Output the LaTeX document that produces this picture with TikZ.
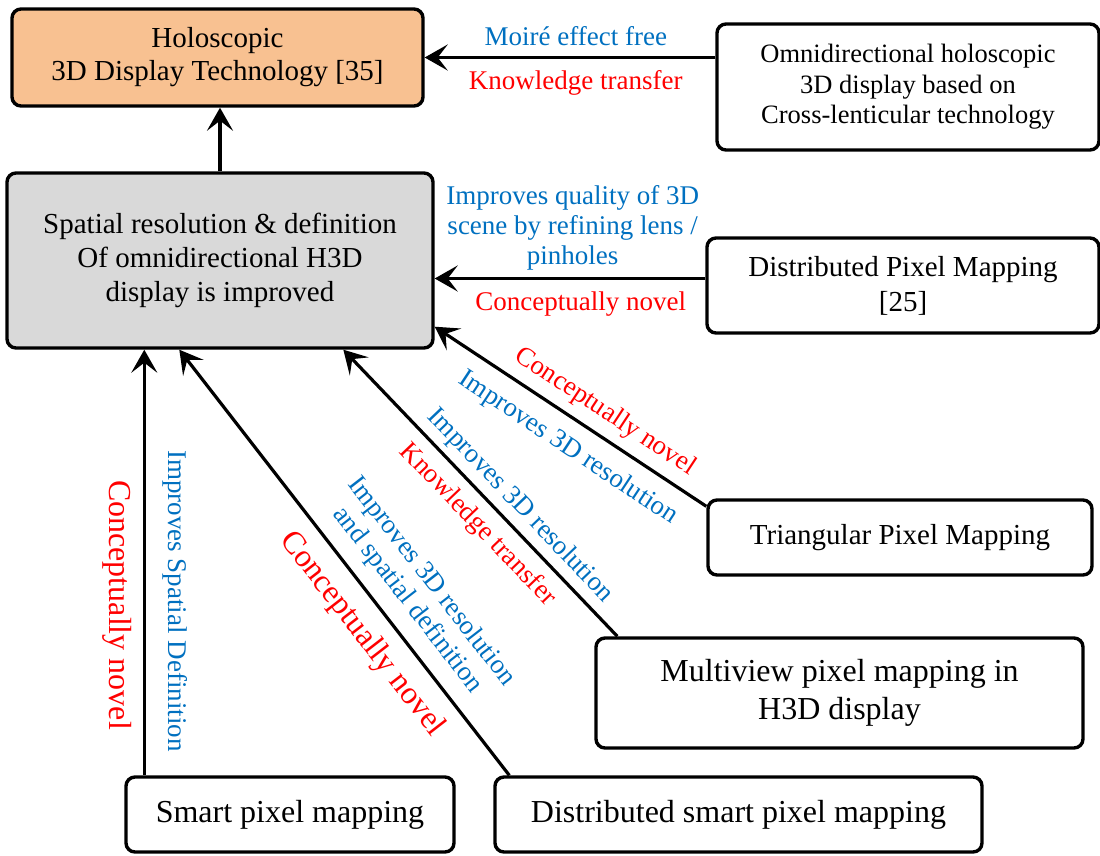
\documentclass[tikz,border=0pt]{standalone}
\usepackage{fontspec}
\setmainfont{Liberation Serif}
\usetikzlibrary{arrows.meta}

\definecolor{holoorange}{RGB}{248,193,145}
\definecolor{boxgray}{RGB}{217,217,217}
\definecolor{lblue}{RGB}{0,112,192}
\definecolor{lred}{RGB}{255,0,0}
\newcommand{\fs}[2]{\fontsize{#1}{#2}\selectfont}

\begin{document}
\begin{tikzpicture}[x=1pt, y=-1pt,
    box/.style = {rectangle, draw, rounded corners=9pt, line width=3.4pt,
      align=center, inner sep=2pt},
    arr/.style = {line width=3.2pt, -{Stealth[length=23pt, width=26pt, inset=10pt]}},
    rarr/.style = {line width=3.2pt, {Stealth[length=23pt, width=26pt, inset=10pt]}-},
    blab/.style = {text=lblue, inner sep=1pt, align=center, font=\fs{27}{30}},
    rlab/.style = {text=lred, inner sep=1pt, align=center, font=\fs{27}{30}}]
  \useasboundingbox (0,0) rectangle (1100,855);

  % boxes
  \node (holo) [box, fill=holoorange, minimum width=411pt, minimum height=97pt,
    font=\fs{29}{33}] at (217.5,57.5) {Holoscopic\\3D Display Technology [35]};
  \node (spatial) [box, fill=boxgray, minimum width=426pt, minimum height=175pt,
    font=\fs{29}{34}] at (220,260.5)
    {Spatial resolution \& definition\\Of omnidirectional H3D\\display is improved};
  \node (omni) [box, minimum width=382pt, minimum height=126pt,
    font=\fs{26.5}{30.5}] at (908,87)
    {Omnidirectional holoscopic\\3D display based on\\Cross-lenticular technology};
  \node (dpm) [box, minimum width=392pt, minimum height=95pt,
    font=\fs{29}{35}] at (903,285.5) {Distributed Pixel Mapping\\{[25]}};
  \node (tri) [box, minimum width=384pt, minimum height=75pt,
    font=\fs{29}{34}] at (900,537.5) {Triangular Pixel Mapping};
  \node (multi) [box, minimum width=487pt, minimum height=110pt,
    font=\fs{32}{38}] at (839.5,693) {Multiview pixel mapping in\\H3D display};
  \node (smart) [box, minimum width=328pt, minimum height=75pt,
    font=\fs{32}{38}] at (290,814.5) {Smart pixel mapping};
  \node (dsmart) [box, minimum width=487pt, minimum height=75pt,
    font=\fs{32}{38}] at (738.5,814.5) {Distributed smart pixel mapping};

  % arrow ends
  \coordinate (s1) at ([xshift=20pt]smart.north west);
  \coordinate (d1) at ([xshift=16pt]dsmart.north west);
  \coordinate (g2) at ([xshift=174pt]spatial.south west);
  \coordinate (m1) at ([xshift=23pt]multi.north west);
  \coordinate (g3) at ([xshift=338pt]spatial.south west);

  \draw [arr] (spatial.north) -- (spatial.north |- holo.south);
  \draw [arr] (omni.west |- holo.east)
    -- node [blab, pos=0.48, above=9pt] {Moiré effect free}
       node [rlab, pos=0.48, below=10.8pt] {Knowledge transfer}
    (holo.east);
  \draw [arr] ([yshift=7pt]dpm.west)
    -- node [blab, pos=0.49, above=6pt]
         {Improves quality of 3D\\scene by refining lens /\\pinholes}
       node [rlab, pos=0.46, below=10.8pt] {Conceptually novel}
    ([yshift=7pt]dpm.west -| spatial.east);
  \draw [rarr] (s1 |- spatial.south)
    -- node [rlab, sloped, pos=0.6, below=10pt, font=\fs{32}{36}] {Conceptually novel}
       node [blab, sloped, pos=0.59, above=16pt] {Improves Spatial Definition}
    (s1);
  \draw [arr] (d1)
    -- node [blab, sloped, pos=0.373, above=12pt]
         {Improves 3D resolution\\and spatial definition}
       node [rlab, sloped, pos=0.375, below=13pt, font=\fs{32}{36}] {Conceptually novel}
    (g2);
  \draw [arr] (m1)
    -- node [blab, sloped, pos=0.408, above=5pt] {Improves 3D resolution}
       node [rlab, sloped, pos=0.447, below=9pt] {Knowledge transfer}
    (g3);
  \draw [arr] ([yshift=-8pt]tri.north west)
    -- node [rlab, sloped, pos=0.419, above=8pt] {Conceptually novel}
       node [blab, sloped, pos=0.453, below=13pt] {Improves 3D resolution}
    ([yshift=23pt]spatial.south east);
\end{tikzpicture}
\end{document}
